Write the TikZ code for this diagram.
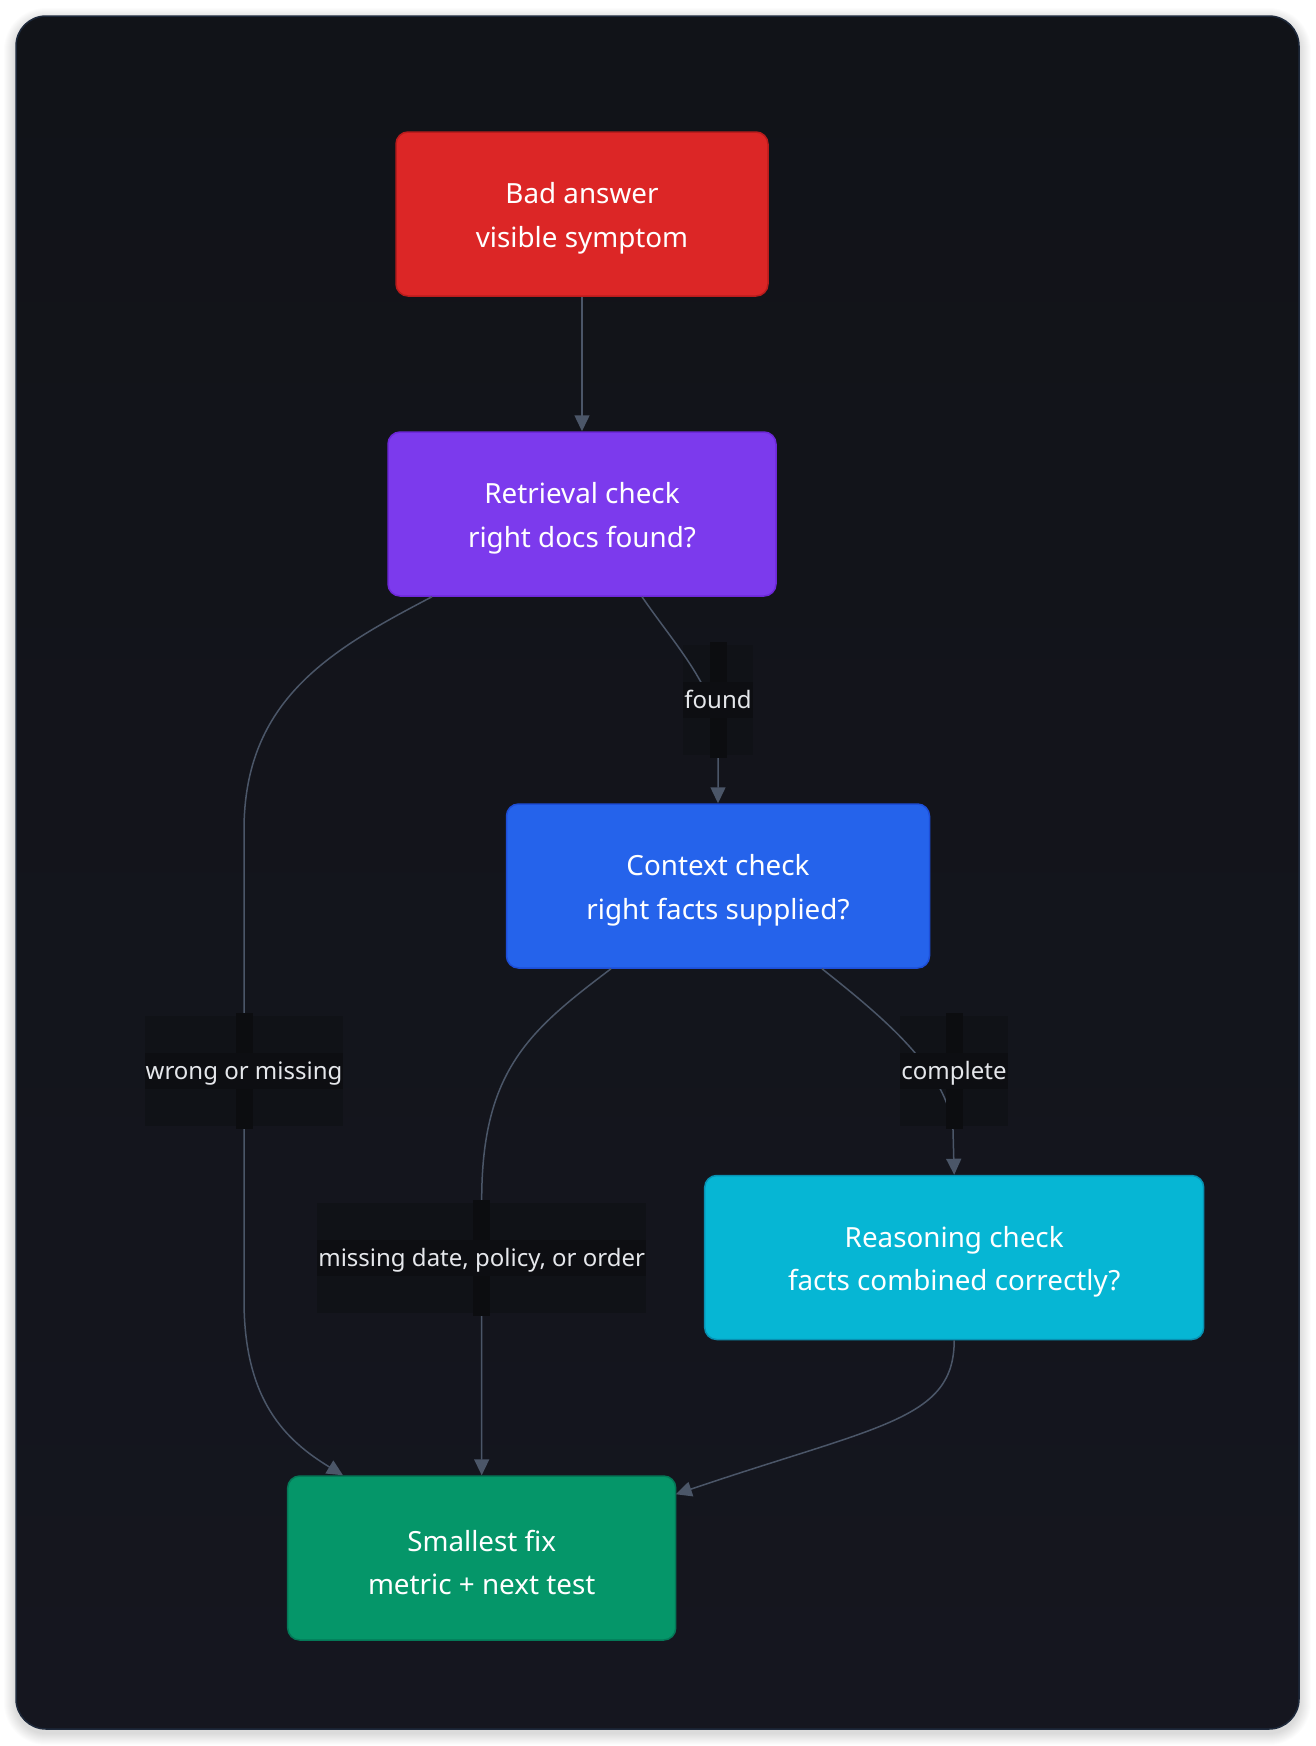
\documentclass[tikz,border=0pt]{standalone}
\usepackage{fontspec}
\setmainfont{Noto Sans}
\usetikzlibrary{calc,arrows.meta}
\definecolor{panelA}{HTML}{111318}
\definecolor{panelB}{HTML}{15161F}
\definecolor{panelrim}{HTML}{1E293B}
\definecolor{edgecol}{HTML}{4B5668}
\definecolor{lblbg}{HTML}{0D0E12}
\definecolor{lblstrip}{HTML}{0C0D10}
\definecolor{lblbig}{HTML}{101217}
\definecolor{redF}{HTML}{DC2626}\definecolor{redD}{HTML}{B91C1C}
\definecolor{vioF}{HTML}{7C3AED}\definecolor{vioD}{HTML}{6D28D9}
\definecolor{bluF}{HTML}{2563EB}\definecolor{bluD}{HTML}{1D4ED8}
\definecolor{cyaF}{HTML}{06B6D4}\definecolor{cyaD}{HTML}{0891B2}
\definecolor{grnF}{HTML}{059669}\definecolor{grnD}{HTML}{047857}
\definecolor{lbltext}{HTML}{E5E7EB}
\newcommand\lowline[1]{\raisebox{-4.5pt}[\height][\depth]{#1}}
\begin{document}
\begin{tikzpicture}[x=1pt,y=-1pt,
  box/.style={rectangle,rounded corners=12pt,minimum height=164pt,inner sep=0pt,
    line width=1.5pt,text=white,align=center,font=\fontsize{27.8}{43.5}\selectfont},
  edge/.style={draw=edgecol,line width=1.5pt,-{Triangle[length=16pt,width=15pt]}},
  elabel/.style={fill=lblbg,text=lbltext,inner xsep=1pt,inner ysep=0pt,
    text height=22pt,text depth=5pt,minimum height=36pt,font=\fontsize{24}{27}\selectfont},
  lbig/.style={fill=lblbig,inner xsep=1pt,inner ysep=0pt,minimum height=110pt,
    font=\fontsize{24}{27}\selectfont},
  lstrip/.style={fill=lblstrip,inner sep=0pt,minimum width=17pt,minimum height=116pt},
]
\useasboundingbox (0,0) rectangle (1316,1746);
\fill[white] (0,0) rectangle (1316,1746);
% soft shadow
\foreach \i in {1,...,12}{
  \fill[black,opacity=0.012,rounded corners=30pt+\i pt] (16-\i,20-\i) rectangle (1299+\i,1733+\i);
}
% panel
\shade[top color=panelA,bottom color=panelB,rounded corners=30pt] (16,16) rectangle (1299,1729);
\draw[panelrim,line width=1.5pt,rounded corners=30pt] (16,16) rectangle (1299,1729);

% boxes
\node[box,fill=redF,draw=redD,minimum width=372pt] (bad) at (582,214)
  {\lowline{Bad answer}\\\lowline{visible symptom}};
\node[box,fill=vioF,draw=vioD,minimum width=388pt] (ret) at (582,514)
  {\lowline{Retrieval check}\\\lowline{right docs found?}};
\node[box,fill=bluF,draw=bluD,minimum width=423pt] (cxt) at (718,886)
  {\lowline{Context check}\\\lowline{right facts supplied?}};
\node[box,fill=cyaF,draw=cyaD,minimum width=499pt] (rea) at (954.2,1257.5)
  {\lowline{Reasoning check}\\\lowline{facts combined correctly?}};
\node[box,fill=grnF,draw=grnD,minimum width=388pt] (fix) at (481.7,1558)
  {\lowline{Smallest fix}\\\lowline{metric + next test}};

% label positions
\coordinate (lf) at (718,699.5);
\coordinate (lw) at (244,1071);
\coordinate (lm) at (481.7,1257.5);
\coordinate (lc) at (954,1071);

% faint label backdrops (under the connectors)
\node[lbig] (lfbig) at (lf) {\phantom{found}};
\node[lbig] (lwbig) at (lw) {\phantom{wrong or missing}};
\node[lbig] (lmbig) at (lm) {\phantom{missing date, policy, or order}};
\node[lbig] (lcbig) at (lc) {\phantom{complete}};

% connectors
\draw[edge] (bad.south) -- (ret.north);
\draw[edge] ($(ret.south)+(60,0)$) .. controls (675,645) and (718,690) .. (718,740) -- (cxt.north);
\draw[edge] ($(ret.south)+(-150,0)$) .. controls (330,650) and (244,700) .. (244,830)
   -- (lw) -- (244,1300) .. controls (244,1400) and (285,1440) .. ($(fix.north)+(-138.7,0)$);
\draw[edge] ($(cxt.south)+(-107,0)$) .. controls (530,1030) and (481.7,1070) .. (481.7,1200)
   -- (lm) -- (fix.north);
\draw[edge] ($(cxt.south)+(104,0)$) .. controls (880,1015) and (948,1070) .. (953,1130) -- (rea.north);
\draw[edge] (rea.south) .. controls (954.2,1420) and (880,1425) .. ($(fix.north east)+(-0.7,19)$);

% edge labels
\node[lstrip] (lfstrip) at (lf) {};
\node[elabel] (lfound) at (lf) {found};

\node[lstrip] (lwstrip) at (lw) {};
\node[elabel] (lwrong) at (lw) {wrong or missing};

\node[lstrip] (lmstrip) at (lm) {};
\node[elabel] (lmiss) at (lm) {missing date, policy, or order};

\node[lstrip] (lcstrip) at (lc) {};
\node[elabel] (lcomp) at (lc) {complete};
\end{tikzpicture}
\end{document}
